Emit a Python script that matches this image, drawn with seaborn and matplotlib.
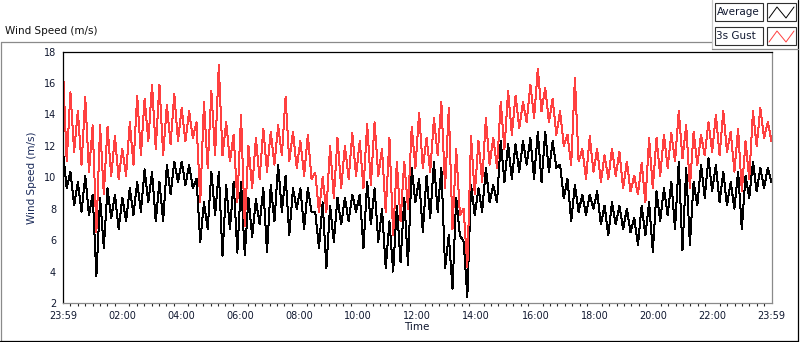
import numpy as np
import pandas as pd
import matplotlib
matplotlib.use("Agg")
import matplotlib.pyplot as plt
import seaborn as sns
from matplotlib.lines import Line2D
from matplotlib.patches import Rectangle

# Each value is the top / bottom of the trace inside a 15-minute window (96 windows, 23:59 -> 23:59)
gust_hi = [16.9, 15.4, 14.2, 15.1, 13.3, 13.3, 13.2, 12.6, 11.8, 13.5, 15.2, 15.0,
           15.9, 15.9, 14.6, 15.3, 14.4, 14.2, 13.5, 14.8, 15.5, 17.15, 13.5, 12.7,
           13.96, 12.0, 12.5, 13.1, 12.9, 13.3, 15.1, 12.9, 12.3, 12.7, 10.3, 10.0,
           12.0, 12.5, 12.0, 12.8, 12.3, 13.4, 13.5, 11.8, 12.5, 11.0, 11.0, 13.2,
           14.1, 12.5, 13.75, 14.8, 14.4, 11.8, 8.0, 12.6, 12.3, 13.75, 12.5, 14.8,
           15.5, 15.2, 14.8, 15.9, 16.9, 15.7, 15.0, 14.2, 12.7, 16.3, 11.8, 12.6,
           11.8, 11.4, 11.8, 11.6, 11.0, 10.1, 10.9, 12.5, 12.5, 12.7, 12.8, 14.2,
           13.3, 12.9, 12.7, 13.5, 13.96, 14.2, 12.9, 13.1, 12.3, 14.2, 14.4, 13.5]
gust_lo = [11.0, 11.6, 10.8, 10.35, 6.5, 8.9, 10.1, 9.9, 10.1, 10.8, 11.4, 12.3,
           11.8, 11.4, 12.1, 12.3, 12.3, 12.5, 8.4, 10.6, 11.4, 11.4, 11.0, 8.4,
           6.9, 9.3, 9.9, 10.35, 10.8, 11.4, 11.0, 10.6, 10.1, 9.9, 7.8, 7.8,
           8.7, 9.3, 9.9, 10.1, 9.3, 9.5, 10.1, 7.8, 6.3, 7.2, 8.0, 10.6,
           10.6, 10.35, 11.4, 9.3, 6.7, 7.6, 4.3, 8.9, 9.7, 10.8, 10.6, 11.8,
           12.7, 13.1, 13.5, 13.75, 14.2, 13.5, 12.7, 12.0, 10.8, 11.0, 9.9, 10.35,
           9.7, 9.9, 10.1, 9.3, 9.1, 8.9, 8.4, 9.3, 10.1, 10.6, 11.0, 11.2,
           9.3, 10.8, 11.4, 11.6, 11.4, 11.6, 10.35, 9.1, 9.9, 12.0, 12.5, 12.3]
avg_hi = [11.6, 10.35, 9.7, 10.1, 8.9, 8.7, 9.3, 8.9, 8.7, 9.3, 9.7, 10.5,
          10.35, 9.7, 10.8, 11.0, 11.0, 10.8, 9.9, 8.4, 10.35, 10.35, 9.5, 9.7,
          9.7, 8.7, 8.6, 9.3, 9.5, 10.8, 10.1, 9.3, 9.3, 9.3, 7.8, 8.4,
          8.2, 8.7, 8.7, 8.9, 8.9, 9.7, 9.3, 8.0, 7.2, 8.2, 8.7, 10.6,
          9.9, 10.1, 11.0, 10.6, 6.3, 8.7, 5.9, 9.5, 9.3, 10.6, 9.5, 12.3,
          12.1, 12.1, 12.3, 12.5, 12.9, 12.9, 12.3, 10.8, 9.9, 9.5, 8.9, 8.9,
          9.1, 8.2, 8.4, 8.2, 8.0, 7.4, 8.2, 8.4, 9.1, 9.3, 9.7, 11.0,
          10.6, 9.7, 10.8, 11.2, 10.8, 10.35, 9.7, 10.35, 10.1, 11.0, 10.6, 10.6]
avg_lo = [9.3, 8.2, 7.8, 7.6, 3.7, 5.5, 7.4, 6.7, 7.2, 7.6, 7.8, 8.4,
          7.2, 7.2, 8.9, 9.7, 9.5, 9.3, 5.9, 6.7, 7.6, 5.0, 6.7, 5.2,
          5.05, 6.2, 7.0, 5.25, 7.2, 7.8, 6.3, 8.0, 6.7, 7.8, 5.5, 4.2,
          5.9, 7.0, 7.2, 7.8, 5.5, 7.0, 5.9, 4.2, 4.0, 4.6, 4.4, 8.4,
          6.5, 7.4, 7.8, 4.2, 2.9, 6.3, 2.4, 7.6, 7.8, 8.4, 8.4, 9.7,
          9.9, 10.35, 10.8, 9.9, 9.7, 10.35, 10.6, 8.65, 7.2, 7.8, 7.6, 8.0,
          7.0, 6.3, 7.0, 6.7, 6.5, 5.7, 6.3, 5.25, 7.2, 7.6, 6.7, 5.35,
          5.7, 8.2, 8.7, 9.1, 8.4, 8.2, 8.0, 6.7, 8.65, 9.1, 9.3, 9.7]

tick_hours = [0, 2, 4, 6, 8, 10, 12, 14, 16, 18, 20, 22, 24]
tick_labels = ["23:59", "02:00", "04:00", "06:00", "08:00", "10:00", "12:00",
               "14:00", "16:00", "18:00", "20:00", "22:00", "23:59"]
y_ticks = [2, 4, 6, 8, 10, 12, 14, 16, 18]

# interleave top/bottom of every window so the trace zigzags like the raw data
def trace(hi, lo):
    return np.ravel(np.column_stack([hi, lo]))

n = 2 * len(gust_hi)
t = np.linspace(0, 24, n)
df = pd.DataFrame({"t": t, "Average": trace(avg_hi, avg_lo), "3s Gust": trace(gust_hi, gust_lo)})

sns.set_style("white")
plt.rcParams["font.family"] = ["DejaVu Sans"]
W, H = 800, 342
fig = plt.figure(figsize=(W / 100, H / 100), dpi=100)
ax = fig.add_axes([63 / W, 1 - 303 / H, (771.5 - 63) / W, (303 - 51.5) / H])

red = "#ff4040"
sns.lineplot(data=df, x="t", y="Average", ax=ax, color="black", lw=0.72, estimator=None, antialiased=False)
sns.lineplot(data=df, x="t", y="3s Gust", ax=ax, color=red, lw=0.72, estimator=None, antialiased=False)

ax.set_xlim(0, 24)
ax.set_ylim(2, 18)
ax.set_yticks(y_ticks)
ax.set_xticks(tick_hours)
ax.set_xticklabels(tick_labels)
ax.set_xticks(np.arange(0, 24.01, 0.25), minor=True)
ax.tick_params(axis="both", which="major", direction="out", length=3, width=0.8,
               labelsize=7, colors="black", pad=2)
ax.tick_params(axis="x", which="major", length=3.5, labelcolor="#101830")
ax.tick_params(axis="x", which="minor", direction="out", length=2, width=0.8, bottom=True)
ax.tick_params(axis="y", labelcolor="#101830")
ax.set_xlabel("Time", fontsize=7.5, color="#101830", labelpad=1)
ax.set_ylabel("Wind Speed (m/s)", fontsize=7.5, color="#1a2a5a", labelpad=5)
for side in ["left", "top"]:
    ax.spines[side].set_color("black")
for side in ["right", "bottom"]:
    ax.spines[side].set_color("#8a8a8a")
for s in ax.spines.values():
    s.set_linewidth(0.9)

# outer LabVIEW style frame
def px_line(xs, ys, color, lw=0.9):
    fig.add_artist(Line2D([x / W for x in xs], [1 - y / H for y in ys], color=color, lw=lw))

px_line([0.5, 712], [42, 42], "#8a8a8a")
px_line([0.5, 0.5], [42, 341], "#8a8a8a")
px_line([0, 798], [341, 341], "black")
px_line([798, 798], [0, 341], "black")
px_line([712, 712], [0, 49], "#c8c8c8")
px_line([712, 798], [49, 49], "#8a8a8a")

fig.text(5 / W, 1 - 31 / H, "Wind Speed (m/s)", fontsize=7.5, color="#101010", va="center", ha="left")

# legend boxes
for i, (name, col) in enumerate([("Average", "black"), ("3s Gust", red)]):
    y0 = 3 + i * 24
    fig.add_artist(Rectangle((715 / W, 1 - (y0 + 18) / H), 48 / W, 18 / H, fill=True,
                             facecolor="white", edgecolor="#303030", lw=0.8))
    fig.text(716.5 / W, 1 - (y0 + 9) / H, name, fontsize=7.5, va="center", ha="left", color="#101830")
    fig.add_artist(Rectangle((767 / W, 1 - (y0 + 18) / H), 29 / W, 18 / H, fill=True,
                             facecolor="white", edgecolor="#303030", lw=0.8))
    px_line([769, 777, 786, 794], [y0 + 15, y0 + 4, y0 + 15, y0 + 4], col, lw=0.7)

fig.savefig("out.png", dpi=100)
